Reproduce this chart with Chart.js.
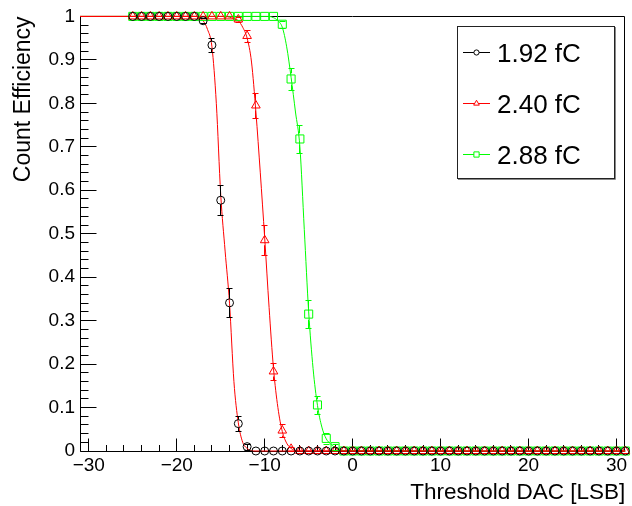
<!DOCTYPE html>
<html>
<head>
<meta charset="utf-8">
<script src="https://cdn.jsdelivr.net/npm/chart.js@4.4.1/dist/chart.umd.min.js"></script>
<style>
  html, body { margin: 0; padding: 0; background: #fff; }
  canvas { display: block; }
</style>
</head>
<body>
<canvas id="chart" width="632" height="506"></canvas>
<script>
// threshold DAC settings where the efficiency was measured
const thresholds = [
  -25, -24, -23, -22, -21, -20, -19, -18, -17, -16, -15, -14, -13, -12, -11, -10, -9, -8, -7,
  -6, -5, -4, -3, -2, -1, 0, 1, 2, 3, 4, 5, 6, 7, 8, 9, 10, 11, 12,
  13, 14, 15, 16, 17, 18, 19, 20, 21, 22, 23, 24, 25, 26, 27, 28, 29, 30, 31
];
const seriesLabels = ['1.92 fC', '2.40 fC', '2.88 fC'];

const eff192 = [
  1, 1, 1, 1, 1, 1, 1, 1, 0.99, 0.934, 0.577, 0.341, 0.063, 0.01, 0, 0, 0, 0, 0,
  0, 0, 0, 0, 0, 0, 0, 0, 0, 0, 0, 0, 0, 0, 0, 0, 0, 0, 0,
  0, 0, 0, 0, 0, 0, 0, 0, 0, 0, 0, 0, 0, 0, 0, 0, 0, 0, 0
];
const err192 = [
  0, 0, 0, 0, 0, 0, 0, 0, 0.006, 0.017, 0.034, 0.033, 0.017, 0.007, 0, 0, 0, 0, 0,
  0, 0, 0, 0, 0, 0, 0, 0, 0, 0, 0, 0, 0, 0, 0, 0, 0, 0, 0,
  0, 0, 0, 0, 0, 0, 0, 0, 0, 0, 0, 0, 0, 0, 0, 0, 0, 0, 0
];
const eff240 = [
  1, 1, 1, 1, 1, 1, 1, 1, 1, 1, 1, 1, 0.993, 0.955, 0.795, 0.485, 0.183, 0.047, 0.005,
  0, 0, 0, 0, 0, 0, 0, 0, 0, 0, 0, 0, 0, 0, 0, 0, 0, 0, 0,
  0, 0, 0, 0, 0, 0, 0, 0, 0, 0, 0, 0, 0, 0, 0, 0, 0, 0, 0
];
const err240 = [
  0, 0, 0, 0, 0, 0, 0, 0, 0, 0, 0, 0, 0.006, 0.013, 0.029, 0.034, 0.019, 0.015, 0.005,
  0, 0, 0, 0, 0, 0, 0, 0, 0, 0, 0, 0, 0, 0, 0, 0, 0, 0, 0,
  0, 0, 0, 0, 0, 0, 0, 0, 0, 0, 0, 0, 0, 0, 0, 0, 0, 0, 0
];
const eff288 = [
  1, 1, 1, 1, 1, 1, 1, 1, 1, 1, 1, 1, 1, 1, 1, 1, 1, 0.982, 0.856,
  0.718, 0.315, 0.106, 0.029, 0.01, 0, 0, 0, 0, 0, 0, 0, 0, 0, 0, 0, 0, 0, 0,
  0, 0, 0, 0, 0, 0, 0, 0, 0, 0, 0, 0, 0, 0, 0, 0, 0, 0, 0
];
const err288 = [
  0, 0, 0, 0, 0, 0, 0, 0, 0, 0, 0, 0, 0, 0, 0, 0, 0, 0.008, 0.025,
  0.032, 0.032, 0.021, 0.012, 0.007, 0, 0, 0, 0, 0, 0, 0, 0, 0, 0, 0, 0, 0, 0,
  0, 0, 0, 0, 0, 0, 0, 0, 0, 0, 0, 0, 0, 0, 0, 0, 0, 0, 0
];

// fitted curves
const fit192X = [-31, -18, -17, -16.5, -16, -15.5, -15, -14.5, -14, -13.5, -13, -12.5, -12, -11.5, -11, 31];
const fit192Y = [1, 1, 0.99, 0.97, 0.93, 0.8, 0.59, 0.46, 0.34, 0.16, 0.065, 0.02, 0.006, 0.001, 0, 0];
const fit240X = [-31, -14.5, -14, -13.5, -13, -12.5, -12, -11.5, -11, -10.5, -10, -9.5, -9, -8.5, -8, -7.5, -7, -6.5, -6, 31];
const fit240Y = [1, 1, 0.998, 0.995, 0.99, 0.975, 0.95, 0.895, 0.78, 0.64, 0.49, 0.33, 0.19, 0.1, 0.045, 0.018, 0.006, 0.001, 0, 0];
const fit288X = [-31, -9.5, -9, -8.5, -8, -7.5, -7, -6.5, -6, -5.5, -5, -4.5, -4, -3.5, -3, -2.5, -2, -1.5, -1, 31];
const fit288Y = [1, 1, 0.997, 0.99, 0.975, 0.93, 0.86, 0.78, 0.7, 0.51, 0.32, 0.19, 0.105, 0.055, 0.028, 0.016, 0.008, 0.003, 0.001, 0];

const xTicks = [-30, -20, -10, 0, 10, 20, 30];
const yTicks = [0, 0.1, 0.2, 0.3, 0.4, 0.5, 0.6, 0.7, 0.8, 0.9, 1];

const FONT = '"Liberation Sans", Arial, Helvetica, sans-serif';
const BLACK = '#000000', RED = '#ff0000', GREEN = '#00ff00';

const pts = (xs, ys) => xs.map((x, i) => ({ x: x, y: ys[i] }));

function markers(label, ys, errs, color, style, radius) {
    return {
        label: label,
        data: pts(thresholds, ys),
        errors: errs,
        showLine: false,
        borderColor: color,
        backgroundColor: 'rgba(0,0,0,0)',
        pointStyle: style,
        pointRadius: radius,
        pointBorderWidth: 1,
        pointBackgroundColor: 'rgba(0,0,0,0)',
        clip: false,
        order: 0
    }
}

function curve(xs, ys, color) {
    return {
        data: pts(xs, ys),
        showLine: true,
        borderColor: color,
        borderWidth: 1,
        pointRadius: 0,
        cubicInterpolationMode: 'monotone',
        fill: false,
        clip: false,
        order: 1
    }
}

const crisp = v => Math.floor(v) + 0.5;

// ROOT style frame with ticks pointing inwards
const frame = {
    id: 'frame',
    beforeDatasetsDraw(chart) {
        const { ctx, chartArea: a, scales: { x, y } } = chart;
        const L = crisp(a.left), R = crisp(a.right - 1), T = crisp(a.top), B = crisp(a.bottom);
        ctx.save();
        ctx.lineWidth = 1;
        ctx.strokeStyle = '#000';
        ctx.beginPath();
        ctx.moveTo(L, T); ctx.lineTo(R, T); ctx.lineTo(R, B); ctx.lineTo(L, B); ctx.closePath();
        for (let i = 0; i < xTicks.length; i++) {
            const px = crisp(x.getPixelForValue(xTicks[i]));
            ctx.moveTo(px, B); ctx.lineTo(px, B - 13);
            if (i < xTicks.length - 1) {
                for (let k = 1; k < 5; k++) {
                    const mx = crisp(x.getPixelForValue(xTicks[i] + k * 2));
                    ctx.moveTo(mx, B); ctx.lineTo(mx, B - 6.5);
                }
            }
        }
        for (let i = 0; i < yTicks.length; i++) {
            const py = crisp(y.getPixelForValue(yTicks[i]));
            ctx.moveTo(L, py); ctx.lineTo(L + 16, py);
            if (i < yTicks.length - 1) {
                for (let k = 1; k < 5; k++) {
                    const my = crisp(y.getPixelForValue(yTicks[i] + k * 0.02));
                    ctx.moveTo(L, my); ctx.lineTo(L + 8, my);
                }
            }
        }
        ctx.stroke();
        ctx.restore();
    }
};

const errorBars = {
    id: 'errorBars',
    afterDatasetsDraw(chart) {
        const { ctx, scales: { x, y } } = chart;
        ctx.save();
        ctx.lineWidth = 1;
        chart.data.datasets.forEach(ds => {
            if (!ds.errors) return;
            ctx.strokeStyle = ds.borderColor;
            ctx.beginPath();
            ds.data.forEach((p, i) => {
                const e = ds.errors[i];
                if (!e) return;
                const px = crisp(x.getPixelForValue(p.x));
                const py = y.getPixelForValue(p.y);
                const hi = Math.round(y.getPixelForValue(p.y + e)) + 0.5;
                const lo = Math.round(y.getPixelForValue(p.y - e)) + 0.5;
                const r = ds.pointRadius;
                if (py - r > hi) { ctx.moveTo(px, hi); ctx.lineTo(px, py - r); }
                if (py + r < lo) { ctx.moveTo(px, py + r); ctx.lineTo(px, lo); }
                ctx.moveTo(px - 3, hi); ctx.lineTo(px + 3, hi);
                ctx.moveTo(px - 3, lo); ctx.lineTo(px + 3, lo);
            });
            ctx.stroke();
        });
        ctx.restore();
    }
};

const legendBox = {
    id: 'legendBox',
    afterDraw(chart) {
        const { ctx } = chart;
        const left = 457, top = 26, right = 614, bottom = 178;
        ctx.save();
        ctx.fillStyle = '#fff';
        ctx.fillRect(left, top, right - left, bottom - top);
        ctx.strokeStyle = '#888';
        ctx.lineWidth = 1;
        ctx.beginPath();
        ctx.moveTo(left + 1, bottom + 1.5); ctx.lineTo(right + 1.5, bottom + 1.5); ctx.lineTo(right + 1.5, top + 1);
        ctx.stroke();
        ctx.strokeStyle = '#222';
        ctx.strokeRect(left + 0.5, top + 0.5, right - left, bottom - top);
        const rows = [52.5, 103.5, 154.5];
        chart.data.datasets.filter(d => d.errors).forEach((ds, i) => {
            const cy = rows[i];
            ctx.strokeStyle = ds.borderColor;
            ctx.beginPath();
            ctx.moveTo(463, cy); ctx.lineTo(490, cy);
            ctx.stroke();
            ctx.fillStyle = '#fff';
            Chart.helpers.drawPoint(ctx, { pointStyle: ds.pointStyle, radius: ds.pointRadius * 0.65, borderWidth: 1, rotation: 0 }, 476.5, cy);
            ctx.fillStyle = '#000';
            ctx.font = '26px ' + FONT;
            ctx.textBaseline = 'alphabetic';
            ctx.textAlign = 'left';
            ctx.fillText(ds.label, 497, cy + 9.5);
        });
        ctx.restore();
    }
};

const minus = v => (v < 0 ? '\u2212' + Math.abs(v) : String(v));

new Chart(document.getElementById('chart').getContext('2d'), {
    type: 'line',
    plugins: [frame, errorBars, legendBox],
    data: {
        datasets: [
            markers(seriesLabels[0], eff192, err192, BLACK, 'circle', 4),
            markers(seriesLabels[1], eff240, err240, RED, 'triangle', 5),
            markers(seriesLabels[2], eff288, err288, GREEN, 'rect', 5.7),
            curve(fit192X, fit192Y, RED),
            curve(fit240X, fit240Y, RED),
            curve(fit288X, fit288Y, GREEN)
        ]
    },
    options: {
        responsive: false,
        animation: false,
        devicePixelRatio: 1,
        events: [],
        layout: {
            padding: { top: 15, right: 5, left: 0, bottom: 0 }
        },
        plugins: {
            legend: { display: false },
            tooltip: { enabled: false }
        },
        scales: {
            x: {
                type: 'linear',
                min: -31,
                max: 31,
                afterBuildTicks: s => { s.ticks = xTicks.map(v => ({ value: v })) },
                afterFit: s => { s.height = 55 },
                grid: { display: false, drawTicks: false },
                border: { display: false },
                ticks: {
                    autoSkip: false,
                    maxRotation: 0,
                    padding: 3,
                    color: '#000',
                    font: { family: FONT, size: 19 },
                    callback: v => minus(v)
                },
                title: {
                    display: true,
                    text: 'Threshold DAC [LSB]',
                    align: 'end',
                    color: '#000',
                    font: { family: FONT, size: 22.5 },
                    padding: { top: 0, bottom: 0 }
                }
            },
            y: {
                type: 'linear',
                min: 0,
                max: 1,
                afterBuildTicks: s => { s.ticks = yTicks.map(v => ({ value: v })) },
                afterFit: s => { s.width = 80 },
                grid: { display: false, drawTicks: false },
                border: { display: false },
                ticks: {
                    autoSkip: false,
                    padding: 5,
                    color: '#000',
                    font: { family: FONT, size: 19 },
                    callback: v => (v === 0 || v === 1 ? String(v) : v.toFixed(1))
                },
                title: {
                    display: true,
                    text: 'Count Efficiency',
                    align: 'end',
                    color: '#000',
                    font: { family: FONT, size: 23 },
                    padding: { top: 10, bottom: 0 }
                }
            }
        }
    }
});
</script>
</body>
</html>
